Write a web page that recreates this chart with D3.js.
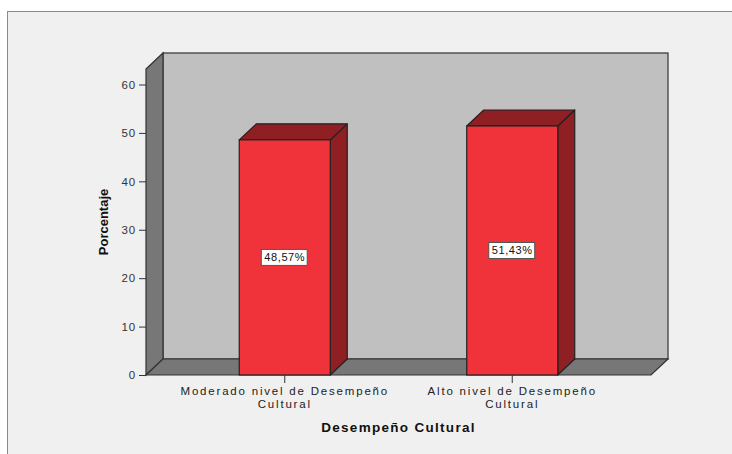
<!DOCTYPE html>
<html><head><meta charset="utf-8">
<script src="https://cdn.jsdelivr.net/npm/d3@7"></script>
<style>
html,body{margin:0;padding:0;background:#fff;}
text{font-family:"Liberation Sans",Arial,sans-serif;}
</style></head>
<body><svg id="c" width="732" height="454"></svg>
<script>
const categories = ["Moderado nivel de Desempeño|Cultural", "Alto nivel de Desempeño|Cultural"];
const values = [48.57, 51.43];
const valueLabels = ["48,57%", "51,43%"];
const yTicks = [0, 10, 20, 30, 40, 50, 60];
const yTitle = "Porcentaje";
const xTitle = "Desempeño Cultural";

(function () {
const svg = d3.select("#c");
const W = 732, H = 454;
svg.append("rect").attr("width", W).attr("height", H).attr("fill", "#fff");
// outer frame
svg.append("rect").attr("x", 7.5).attr("y", 11.5).attr("width", 740).attr("height", 460)
  .attr("fill", "#f0f0f0").attr("stroke", "#8a8a8a").attr("stroke-width", 1);

const pLeft = 146, pRight = 651, pBottom = 375, pTop = 69;
const dx = 17, dy = 16;
const y = d3.scaleLinear().domain([0, 63.2]).range([pBottom, pTop]);
const x = d3.scaleBand().domain(categories).range([pLeft, pRight]).paddingInner(0.6).paddingOuter(0.41);

const wallCol = "#c0c0c0", sideCol = "#777777", edge = "#333";
// back wall
svg.append("rect").attr("x", pLeft + dx).attr("y", pTop - dy).attr("width", pRight - pLeft).attr("height", pBottom - pTop)
  .attr("fill", wallCol).attr("stroke", edge).attr("stroke-width", 1.2);
// left wall
svg.append("polygon").attr("points", [[pLeft, pTop], [pLeft + dx, pTop - dy], [pLeft + dx, pBottom - dy], [pLeft, pBottom]].join(" "))
  .attr("fill", sideCol).attr("stroke", edge).attr("stroke-width", 1.2);
// floor
svg.append("polygon").attr("points", [[pLeft, pBottom], [pLeft + dx, pBottom - dy], [pRight + dx, pBottom - dy], [pRight, pBottom]].join(" "))
  .attr("fill", sideCol).attr("stroke", edge).attr("stroke-width", 1.2);

// y axis
const yAxis = d3.axisLeft(y).tickValues(yTicks).tickSize(7).tickPadding(3);
const gy = svg.append("g").attr("transform", `translate(${pLeft},0)`).call(yAxis);
gy.select(".domain").remove();
gy.selectAll("line").attr("stroke", "#333");
gy.selectAll("text").attr("font-size", "11.5px").attr("fill", "#333").style("letter-spacing", "0.8px")
  .attr("font-family", "'Liberation Sans',Arial,sans-serif");

// bars
const front = "#f0333b", dark = "#8e1f23";
const bars = svg.append("g");
categories.forEach((c, i) => {
  const x0 = x(c), x1 = x(c) + x.bandwidth(), yt = y(values[i]), yb = y(0);
  bars.append("polygon").attr("points", [[x1, yt], [x1 + dx, yt - dy], [x1 + dx, yb - dy], [x1, yb]].join(" "))
    .attr("fill", dark).attr("stroke", "#222").attr("stroke-width", 1.2).attr("stroke-linejoin", "round");
  bars.append("polygon").attr("points", [[x0, yt], [x0 + dx, yt - dy], [x1 + dx, yt - dy], [x1, yt]].join(" "))
    .attr("fill", dark).attr("stroke", "#222").attr("stroke-width", 1.2).attr("stroke-linejoin", "round");
  bars.append("rect").attr("x", x0).attr("y", yt).attr("width", x1 - x0).attr("height", yb - yt)
    .attr("fill", front).attr("stroke", "#222").attr("stroke-width", 1.2);
  // label
  const cx = x0 + x.bandwidth() / 2, cy = y(values[i] / 2);
  const t = bars.append("text").attr("x", cx).attr("y", cy + 4).attr("text-anchor", "middle")
    .attr("font-size", "11px").attr("fill", "#111").style("letter-spacing", "0.6px").text(valueLabels[i]);
  const bb = t.node().getBBox();
  bars.insert("rect", () => t.node()).attr("x", bb.x - 3).attr("y", cy - 8).attr("width", bb.width + 5).attr("height", 16)
    .attr("fill", "#fff").attr("stroke", "#555").attr("stroke-width", 1);
});

// x axis ticks and labels
const gx = svg.append("g");
categories.forEach(c => {
  const cx = x(c) + x.bandwidth() / 2;
  gx.append("line").attr("x1", cx).attr("x2", cx).attr("y1", pBottom).attr("y2", pBottom + 8).attr("stroke", "#333");
  const lines = c.split("|");
  lines.forEach((l, j) => {
    gx.append("text").attr("x", cx).attr("y", pBottom + 20 + j * 13).attr("text-anchor", "middle")
      .attr("font-size", "11.5px").attr("fill", "#222").style("letter-spacing", "1.8px").text(l);
  });
});

svg.append("text").attr("x", (pLeft + pRight) / 2).attr("y", 432).attr("text-anchor", "middle")
  .attr("font-size", "13.5px").attr("font-weight", "bold").attr("fill", "#111").style("letter-spacing", "1.3px").text(xTitle);
svg.append("text").attr("transform", `translate(108,${222}) rotate(-90)`).attr("text-anchor", "middle")
  .attr("font-size", "13px").attr("font-weight", "bold").attr("fill", "#111").text(yTitle);
})();
</script></body></html>
